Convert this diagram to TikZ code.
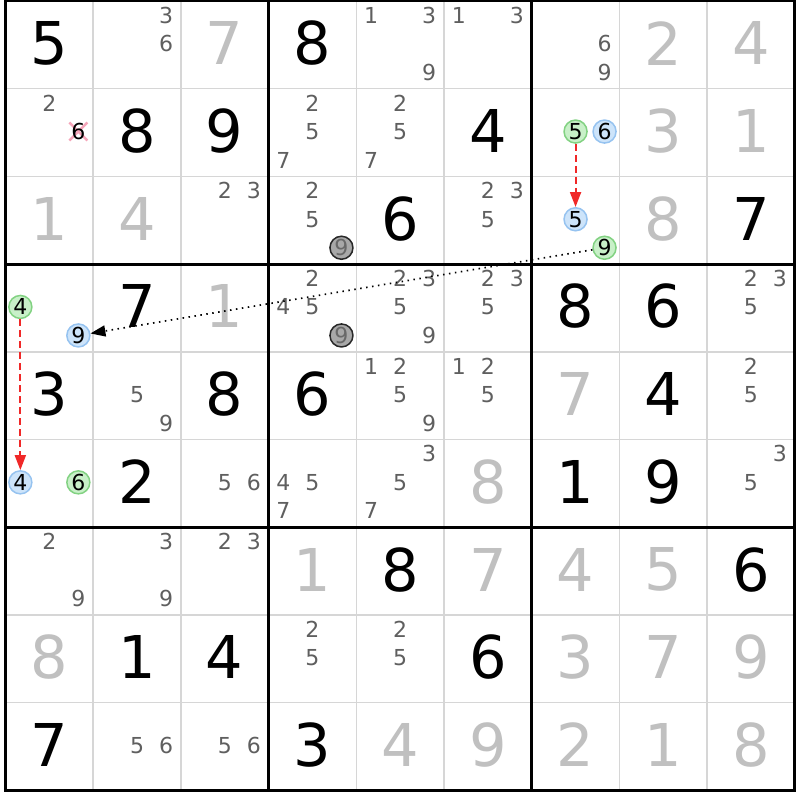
\documentclass[tikz,border=0pt]{standalone}
\usepackage{fontspec}
\setmainfont{DejaVu Sans}
\usetikzlibrary{arrows.meta}
\definecolor{solvedgray}{RGB}{192,192,192}
\definecolor{candgray}{RGB}{95,95,95}
\definecolor{thingrid}{RGB}{214,214,214}
\definecolor{grfill}{RGB}{200,240,200}
\definecolor{grline}{RGB}{130,210,130}
\definecolor{blfill}{RGB}{205,228,250}
\definecolor{blline}{RGB}{150,195,240}
\definecolor{gyfill}{RGB}{168,168,168}
\definecolor{gyline}{RGB}{40,40,40}
\definecolor{gytext}{RGB}{105,105,105}
\definecolor{linkred}{RGB}{240,40,40}
\definecolor{crosspink}{RGB}{245,165,185}
\tikzset{
 bigdigit/.style={inner sep=0pt, font=\fontsize{59}{60}\selectfont},
 givendigit/.style={bigdigit, text=black},
 solveddigit/.style={bigdigit, text=solvedgray},
 canddigit/.style={inner sep=0pt, font=\fontsize{22}{24}\selectfont, text=candgray},
 crossdigit/.style={inner sep=0pt, font=\fontsize{22}{24}\selectfont, text=black},
 candcircle/.style={circle, minimum size=23pt, inner sep=0pt, line width=1.5pt, font=\fontsize{22}{24}\selectfont},
 greencand/.style={candcircle, fill=grfill, draw=grline, text=black},
 bluecand/.style={candcircle, fill=blfill, draw=blline, text=black},
 graycand/.style={candcircle, fill=gyfill, draw=gyline, text=gytext},
 redlink/.style={draw=linkred, line width=2pt, dash pattern=on 7pt off 4pt, -{Triangle[length=15pt,width=11pt]}},
 dotlink/.style={draw=black, line width=1.7pt, dash pattern=on 1.5pt off 4.5pt, -{Triangle[length=15pt,width=11pt]}},
 crossline/.style={draw=crosspink, line width=2.5pt},
 thinline/.style={draw=thingrid, line width=1.5pt},
 thickline/.style={draw=black, line width=3pt},
}
\newcommand\putGiven[3]{\node[givendigit] (g#1#2) at ({5.5+87.7*(#2+0.5)},{87.7*(#1+0.5)-0.5}) {#3};}
\newcommand\putSolved[3]{\node[solveddigit] (g#1#2) at ({5.5+87.7*(#2+0.5)},{87.7*(#1+0.5)-0.5}) {#3};}
\newcommand\putCand[4][canddigit]{\node[#1] (c#2#3#4) at ({5.5+87.7*(#3+0.5)+29*(mod(#4-1,3)-1)},{87.7*(#2+0.5)+28.5*(int((#4-1)/3)-1)}) {#4};}
\begin{document}
\begin{tikzpicture}[x=1pt,y=-1pt]
\useasboundingbox (0,0) rectangle (800,800);
\fill[white] (0,0) rectangle (800,800);
% thin grid
\foreach \i in {1,2,4,5,7,8}{
  \draw[thinline] ({5.5+87.7*\i},1) -- ({5.5+87.7*\i},790.3);
  \draw[thinline] (5.5,{1+87.7*\i}) -- (794.8,{1+87.7*\i});
}
\foreach \i in {3,6}{
  \draw[thickline] ({5.5+87.7*\i},1) -- ({5.5+87.7*\i},790.3);
  \draw[thickline] (5.5,{1+87.7*\i}) -- (794.8,{1+87.7*\i});
}
\draw[thickline] (5.5,1) rectangle (794.8,790.3);
% row 0
\putGiven{0}{0}{5}
\putCand{0}{1}{3}\putCand{0}{1}{6}
\putSolved{0}{2}{7}
\putGiven{0}{3}{8}
\putCand{0}{4}{1}\putCand{0}{4}{3}\putCand{0}{4}{9}
\putCand{0}{5}{1}\putCand{0}{5}{3}
\putCand{0}{6}{6}\putCand{0}{6}{9}
\putSolved{0}{7}{2}
\putSolved{0}{8}{4}
% row 1
\putCand{1}{0}{2}
\coordinate (x106) at ({5.5+87.7*0.5+29},{87.7*1.5});
\draw[crossline] (x106) ++(-9,-9) -- ++(18,18);
\draw[crossline] (x106) ++(-9,9) -- ++(18,-18);
\node[crossdigit] (c106) at (x106) {6};
\putGiven{1}{1}{8}
\putGiven{1}{2}{9}
\putCand{1}{3}{2}\putCand{1}{3}{5}\putCand{1}{3}{7}
\putCand{1}{4}{2}\putCand{1}{4}{5}\putCand{1}{4}{7}
\putGiven{1}{5}{4}
\putCand[greencand]{1}{6}{5}\putCand[bluecand]{1}{6}{6}
\putSolved{1}{7}{3}
\putSolved{1}{8}{1}
% row 2
\putSolved{2}{0}{1}
\putSolved{2}{1}{4}
\putCand{2}{2}{2}\putCand{2}{2}{3}
\putCand{2}{3}{2}\putCand{2}{3}{5}\putCand[graycand]{2}{3}{9}
\putGiven{2}{4}{6}
\putCand{2}{5}{2}\putCand{2}{5}{3}\putCand{2}{5}{5}
\putCand[bluecand]{2}{6}{5}\putCand[greencand]{2}{6}{9}
\putSolved{2}{7}{8}
\putGiven{2}{8}{7}
% row 3
\putCand[greencand]{3}{0}{4}\putCand[bluecand]{3}{0}{9}
\putGiven{3}{1}{7}
\putSolved{3}{2}{1}
\putCand{3}{3}{2}\putCand{3}{3}{4}\putCand{3}{3}{5}\putCand[graycand]{3}{3}{9}
\putCand{3}{4}{2}\putCand{3}{4}{3}\putCand{3}{4}{5}\putCand{3}{4}{9}
\putCand{3}{5}{2}\putCand{3}{5}{3}\putCand{3}{5}{5}
\putGiven{3}{6}{8}
\putGiven{3}{7}{6}
\putCand{3}{8}{2}\putCand{3}{8}{3}\putCand{3}{8}{5}
% row 4
\putGiven{4}{0}{3}
\putCand{4}{1}{5}\putCand{4}{1}{9}
\putGiven{4}{2}{8}
\putGiven{4}{3}{6}
\putCand{4}{4}{1}\putCand{4}{4}{2}\putCand{4}{4}{5}\putCand{4}{4}{9}
\putCand{4}{5}{1}\putCand{4}{5}{2}\putCand{4}{5}{5}
\putSolved{4}{6}{7}
\putGiven{4}{7}{4}
\putCand{4}{8}{2}\putCand{4}{8}{5}
% row 5
\putCand[bluecand]{5}{0}{4}\putCand[greencand]{5}{0}{6}
\putGiven{5}{1}{2}
\putCand{5}{2}{5}\putCand{5}{2}{6}
\putCand{5}{3}{4}\putCand{5}{3}{5}\putCand{5}{3}{7}
\putCand{5}{4}{3}\putCand{5}{4}{5}\putCand{5}{4}{7}
\putSolved{5}{5}{8}
\putGiven{5}{6}{1}
\putGiven{5}{7}{9}
\putCand{5}{8}{3}\putCand{5}{8}{5}
% row 6
\putCand{6}{0}{2}\putCand{6}{0}{9}
\putCand{6}{1}{3}\putCand{6}{1}{9}
\putCand{6}{2}{2}\putCand{6}{2}{3}
\putSolved{6}{3}{1}
\putGiven{6}{4}{8}
\putSolved{6}{5}{7}
\putSolved{6}{6}{4}
\putSolved{6}{7}{5}
\putGiven{6}{8}{6}
% row 7
\putSolved{7}{0}{8}
\putGiven{7}{1}{1}
\putGiven{7}{2}{4}
\putCand{7}{3}{2}\putCand{7}{3}{5}
\putCand{7}{4}{2}\putCand{7}{4}{5}
\putGiven{7}{5}{6}
\putSolved{7}{6}{3}
\putSolved{7}{7}{7}
\putSolved{7}{8}{9}
% row 8
\putGiven{8}{0}{7}
\putCand{8}{1}{5}\putCand{8}{1}{6}
\putCand{8}{2}{5}\putCand{8}{2}{6}
\putGiven{8}{3}{3}
\putSolved{8}{4}{4}
\putSolved{8}{5}{9}
\putSolved{8}{6}{2}
\putSolved{8}{7}{1}
\putSolved{8}{8}{8}
% links
\draw[redlink] (c165) -- (c265);
\draw[redlink] (c304) -- (c504);
\draw[dotlink] (c269) -- (c309);
\end{tikzpicture}
\end{document}
